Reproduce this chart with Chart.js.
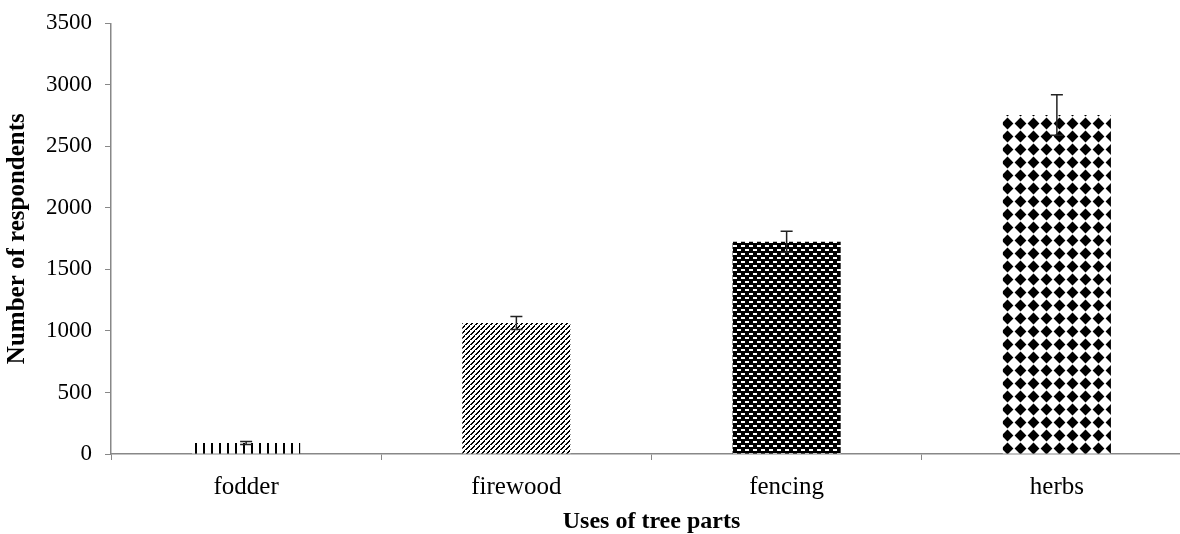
<!DOCTYPE html>
<html>
<head>
<meta charset="utf-8">
<script src="https://cdn.jsdelivr.net/npm/chart.js@4"></script>
<style>
  html, body { margin: 0; padding: 0; background: #fff; overflow: hidden; }
  #wrap { width: 1200px; height: 534px; }
</style>
</head>
<body>
<div id="wrap"><canvas id="usesChart" width="1200" height="534"></canvas></div>
<script>
// data
const categories = ["fodder", "firewood", "fencing", "herbs"];
const respondents = [90, 1065, 1725, 2755];
const errors = [12, 53, 85, 165];
const yMin = 0, yMax = 3500, yStep = 500;

const FONT = "'Liberation Serif', 'Times New Roman', serif";

// small helper to build a fill pattern from a tile
function makePattern(w, h, draw) {
  const c = document.createElement("canvas");
  c.width = w; c.height = h;
  const g = c.getContext("2d");
  g.fillStyle = "#fff";
  g.fillRect(0, 0, w, h);
  g.fillStyle = "#000";
  g.strokeStyle = "#000";
  draw(g);
  return g.createPattern(c, "repeat");
}

// vertical lines (fodder)
const vertLines = makePattern(8, 8, g => {
  g.fillRect(3, 0, 2, 8);
});

// dashed upward diagonal (firewood)
const diagLines = makePattern(5, 5, g => {
  for (let i = 0; i < 5; i++) {
    g.fillRect(i, 4 - i, 1, 1);
    g.fillRect((i + 1) % 5, 4 - i, 1, 1);
  }
  g.fillStyle = "#fff";
  g.fillRect(0, 0, 1, 1);
});

// brick-like dashes (fencing)
const bricks = makePattern(8, 8, g => {
  g.fillRect(0, 0, 8, 8);
  g.fillStyle = "#fff";
  g.fillRect(1, 1, 4, 2);
  g.fillRect(5, 5, 3, 2);
  g.fillRect(0, 5, 1, 2);
});

// diamonds (herbs)
const diamonds = makePattern(13, 13, g => {
  g.beginPath();
  g.moveTo(6.5, 0.6);
  g.lineTo(12.4, 6.5);
  g.lineTo(6.5, 12.4);
  g.lineTo(0.6, 6.5);
  g.closePath();
  g.fill();
  g.fillRect(4, 4, 5, 5);
});

const fills = [vertLines, diagLines, bricks, diamonds];

// error bars drawn through the y scale
const errorBars = {
  id: "errorBars",
  afterDatasetsDraw(chart) {
    const ctx = chart.ctx;
    const y = chart.scales.y;
    const meta = chart.getDatasetMeta(0);
    ctx.save();
    ctx.strokeStyle = "#222";
    ctx.lineWidth = 1.5;
    meta.data.forEach((bar, i) => {
      const top = y.getPixelForValue(respondents[i] + errors[i]);
      const bot = y.getPixelForValue(respondents[i] - errors[i]);
      ctx.beginPath();
      ctx.moveTo(bar.x, top);
      ctx.lineTo(bar.x, bot);
      ctx.moveTo(bar.x - 6, top);
      ctx.lineTo(bar.x + 6, top);
      ctx.moveTo(bar.x - 6, bot);
      ctx.lineTo(bar.x + 6, bot);
      ctx.stroke();
    });
    ctx.restore();
  }
};

new Chart(document.getElementById("usesChart"), {
  type: "bar",
  data: {
    labels: categories,
    datasets: [{
      data: respondents,
      backgroundColor: fills,
      borderWidth: 0,
      categoryPercentage: 1,
      barPercentage: 0.4
    }]
  },
  options: {
    responsive: false,
    animation: false,
    layout: { padding: { left: 3, right: 8, top: 4, bottom: 0 } },
    plugins: { legend: { display: false }, tooltip: { enabled: false } },
    scales: {
      x: {
        afterFit: scale => { scale.height = 80; },
        grid: { display: true, drawOnChartArea: false, drawTicks: true, tickLength: 6, color: "#888", offset: true },
        border: { color: "#888", width: 1.5 },
        ticks: { color: "#000", font: { family: FONT, size: 25 }, padding: 12, maxRotation: 0 },
        title: { display: true, text: "Uses of tree parts", color: "#000", font: { family: FONT, size: 24, weight: "bold", lineHeight: 1 }, padding: { top: 0, bottom: 0 } }
      },
      y: {
        min: yMin,
        max: yMax,
        grid: { display: true, drawOnChartArea: false, drawTicks: true, tickLength: 6, color: "#888" },
        border: { color: "#888", width: 1.5 },
        ticks: { stepSize: yStep, color: "#000", font: { family: FONT, size: 23, lineHeight: 0.9 }, padding: 13, callback: v => String(v) },
        title: { display: true, text: "Number of respondents", color: "#000", font: { family: FONT, size: 25, weight: "bold" }, padding: { top: 0, bottom: 0 } }
      }
    }
  },
  plugins: [errorBars]
});
</script>
</body>
</html>
